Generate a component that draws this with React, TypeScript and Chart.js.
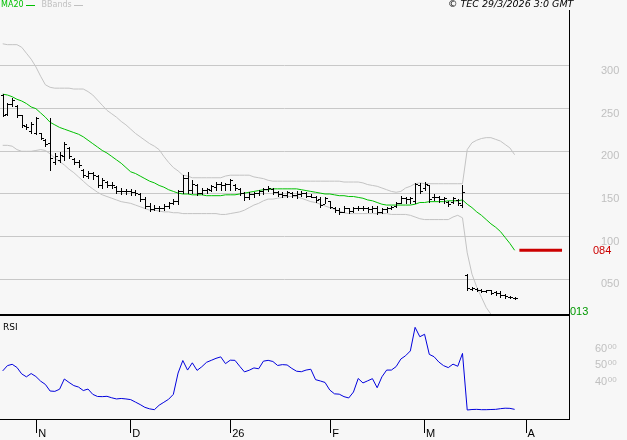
import React, { useEffect, useRef } from "react";
import { Chart, registerables } from "chart.js";

Chart.register(...registerables);

const SANS = "'Liberation Sans', Arial, sans-serif";
const DEJAVU = "'DejaVu Sans', sans-serif";

// ---- Daily OHLC (index 0 = first session shown) ----
const highs = [
  2.67, 2.57, 2.62, 2.54, 2.43, 2.32, 2.34, 2.40, 2.22, 2.14,
  2.39, 1.98, 1.99, 2.11, 2.05, 1.92, 1.90, 1.79, 1.77, 1.76,
  1.72, 1.69, 1.65, 1.64, 1.59, 1.57, 1.56, 1.56, 1.55, 1.51,
  1.47, 1.39, 1.37, 1.36, 1.38, 1.41, 1.44, 1.55, 1.72, 1.76,
  1.66, 1.62, 1.57, 1.57, 1.61, 1.64, 1.64, 1.63, 1.68, 1.62,
  1.57, 1.52, 1.52, 1.52, 1.55, 1.57, 1.59, 1.57, 1.54, 1.52,
  1.54, 1.52, 1.54, 1.54, 1.52, 1.50, 1.48, 1.46, 1.47, 1.42,
  1.35, 1.34, 1.36, 1.34, 1.35, 1.36, 1.36, 1.35, 1.36, 1.36,
  1.34, 1.35, 1.36, 1.41, 1.48, 1.46, 1.46, 1.63, 1.63, 1.64,
  1.61, 1.50, 1.48, 1.47, 1.42, 1.46, 1.44, 1.61, 0.56, 0.41,
  0.40, 0.39, 0.38, 0.38, 0.36, 0.36, 0.33, 0.30, 0.29,
];
const lows = [
  2.41, 2.43, 2.53, 2.40, 2.29, 2.26, 2.22, 2.20, 2.14, 2.06,
  1.78, 1.85, 1.88, 1.90, 1.92, 1.85, 1.82, 1.70, 1.69, 1.68,
  1.58, 1.57, 1.58, 1.57, 1.51, 1.50, 1.50, 1.49, 1.49, 1.42,
  1.34, 1.30, 1.31, 1.30, 1.31, 1.34, 1.38, 1.38, 1.51, 1.51,
  1.51, 1.49, 1.50, 1.51, 1.53, 1.55, 1.55, 1.55, 1.55, 1.55,
  1.49, 1.43, 1.44, 1.46, 1.49, 1.50, 1.53, 1.50, 1.48, 1.47,
  1.47, 1.47, 1.45, 1.48, 1.47, 1.46, 1.41, 1.35, 1.39, 1.33,
  1.29, 1.27, 1.29, 1.28, 1.29, 1.31, 1.31, 1.29, 1.29, 1.27,
  1.28, 1.29, 1.32, 1.35, 1.39, 1.40, 1.40, 1.39, 1.51, 1.55,
  1.41, 1.43, 1.41, 1.39, 1.36, 1.40, 1.37, 1.35, 0.38, 0.37,
  0.36, 0.35, 0.35, 0.33, 0.32, 0.29, 0.28, 0.28, 0.27,
];
const opens = [
  2.66, 2.44, 2.56, 2.53, 2.42, 2.30, 2.24, 2.22, 2.21, 2.13,
  2.10, 1.87, 1.90, 1.95, 2.04, 1.91, 1.88, 1.78, 1.71, 1.74,
  1.71, 1.60, 1.64, 1.61, 1.58, 1.53, 1.54, 1.53, 1.52, 1.50,
  1.44, 1.36, 1.32, 1.33, 1.33, 1.36, 1.39, 1.42, 1.53, 1.69,
  1.55, 1.60, 1.51, 1.55, 1.55, 1.58, 1.62, 1.60, 1.62, 1.61,
  1.56, 1.51, 1.47, 1.50, 1.51, 1.54, 1.56, 1.56, 1.52, 1.50,
  1.49, 1.51, 1.49, 1.50, 1.51, 1.48, 1.47, 1.44, 1.38, 1.42,
  1.34, 1.31, 1.29, 1.33, 1.30, 1.33, 1.34, 1.33, 1.32, 1.34,
  1.29, 1.32, 1.33, 1.36, 1.40, 1.45, 1.44, 1.42, 1.60, 1.57,
  1.60, 1.46, 1.47, 1.44, 1.41, 1.41, 1.43, 1.37, 0.55, 0.39,
  0.39, 0.37, 0.36, 0.37, 0.35, 0.34, 0.31, 0.29, 0.28,
];
const closes = [
  2.43, 2.56, 2.60, 2.42, 2.31, 2.28, 2.32, 2.39, 2.16, 2.08,
  1.92, 1.95, 1.96, 2.08, 1.94, 1.88, 1.84, 1.72, 1.74, 1.72,
  1.60, 1.66, 1.61, 1.60, 1.53, 1.54, 1.53, 1.52, 1.51, 1.44,
  1.36, 1.32, 1.33, 1.33, 1.36, 1.39, 1.42, 1.53, 1.69, 1.55,
  1.62, 1.51, 1.55, 1.56, 1.59, 1.62, 1.60, 1.62, 1.66, 1.57,
  1.51, 1.47, 1.50, 1.51, 1.54, 1.56, 1.57, 1.52, 1.50, 1.49,
  1.52, 1.49, 1.50, 1.51, 1.48, 1.47, 1.43, 1.37, 1.45, 1.35,
  1.31, 1.29, 1.34, 1.30, 1.33, 1.34, 1.33, 1.32, 1.34, 1.29,
  1.32, 1.33, 1.35, 1.40, 1.45, 1.44, 1.45, 1.62, 1.54, 1.62,
  1.44, 1.47, 1.44, 1.45, 1.38, 1.45, 1.39, 1.52, 0.40, 0.40,
  0.37, 0.36, 0.37, 0.34, 0.34, 0.31, 0.30, 0.29, 0.28,
];

// ---- Indicators ----
const ma20 = [
  2.67, 2.66, 2.64, 2.61, 2.59, 2.56, 2.52, 2.50, 2.45, 2.40,
  2.34, 2.31, 2.28, 2.26, 2.24, 2.22, 2.20, 2.17, 2.13, 2.09,
  2.05, 2.01, 1.98, 1.94, 1.90, 1.86, 1.81, 1.76, 1.74, 1.71,
  1.68, 1.65, 1.63, 1.60, 1.58, 1.55, 1.53, 1.51, 1.50, 1.50,
  1.49, 1.49, 1.49, 1.48, 1.48, 1.48, 1.48, 1.49, 1.49, 1.49,
  1.50, 1.51, 1.52, 1.53, 1.54, 1.55, 1.55, 1.56, 1.56, 1.56,
  1.56, 1.56, 1.56, 1.55, 1.54, 1.53, 1.52, 1.51, 1.50, 1.50,
  1.49, 1.48, 1.48, 1.47, 1.47, 1.46, 1.45, 1.43, 1.42, 1.40,
  1.38, 1.37, 1.37, 1.37, 1.37, 1.37, 1.37, 1.38, 1.40, 1.40,
  1.41, 1.41, 1.41, 1.41, 1.42, 1.42, 1.42, 1.43, 1.38, 1.34,
  1.29, 1.25, 1.20, 1.15, 1.11, 1.06, 0.99, 0.92, 0.84,
];
const bbUpper = [
  3.26, 3.25, 3.25, 3.25, 3.22, 3.15, 3.08, 2.99, 2.88, 2.78,
  2.75, 2.74, 2.74, 2.74, 2.74, 2.73, 2.73, 2.73, 2.70, 2.66,
  2.60, 2.54, 2.48, 2.44, 2.40, 2.35, 2.31, 2.26, 2.21, 2.17,
  2.13, 2.09, 2.06, 2.02, 1.94, 1.87, 1.81, 1.77, 1.72, 1.71,
  1.69, 1.69, 1.69, 1.69, 1.69, 1.69, 1.69, 1.71, 1.72, 1.72,
  1.72, 1.72, 1.72, 1.70, 1.69, 1.68, 1.66, 1.65, 1.65, 1.65,
  1.65, 1.65, 1.65, 1.65, 1.65, 1.65, 1.65, 1.65, 1.65, 1.65,
  1.65, 1.65, 1.64, 1.64, 1.64, 1.64, 1.63, 1.61, 1.60, 1.59,
  1.57, 1.55, 1.53, 1.52, 1.53, 1.57, 1.59, 1.62, 1.63, 1.62,
  1.62, 1.62, 1.62, 1.62, 1.62, 1.62, 1.62, 1.62, 2.02, 2.10,
  2.13, 2.15, 2.16, 2.16, 2.14, 2.12, 2.08, 2.04, 1.96,
];
const bbLower = [
  2.07, 2.07, 2.06, 2.02, 2.00, 2.00, 2.00, 2.01, 2.02, 2.01,
  1.97, 1.92, 1.88, 1.84, 1.79, 1.75, 1.70, 1.65, 1.60, 1.56,
  1.52, 1.49, 1.47, 1.45, 1.43, 1.41, 1.40, 1.39, 1.37, 1.35,
  1.33, 1.31, 1.31, 1.30, 1.29, 1.29, 1.28, 1.28, 1.27, 1.27,
  1.27, 1.27, 1.27, 1.27, 1.27, 1.27, 1.26, 1.26, 1.27, 1.28,
  1.29, 1.31, 1.34, 1.37, 1.39, 1.42, 1.44, 1.44, 1.45, 1.46,
  1.47, 1.47, 1.47, 1.45, 1.43, 1.41, 1.40, 1.38, 1.36, 1.34,
  1.32, 1.30, 1.28, 1.27, 1.27, 1.27, 1.27, 1.27, 1.27, 1.27,
  1.27, 1.27, 1.26, 1.26, 1.26, 1.26, 1.25, 1.23, 1.21, 1.20,
  1.20, 1.20, 1.20, 1.20, 1.20, 1.23, 1.25, 1.22, 0.81, 0.56,
  0.41, 0.29, 0.17, 0.09, 0.01, -0.07, -0.16, -0.25, -0.33,
];
const rsi = [
  43.4, 46.6, 47.4, 45.5, 41.6, 39.8, 41.8, 40.0, 37.2, 35.2,
  31.2, 31.0, 32.3, 38.5, 36.4, 34.5, 33.6, 31.5, 32.4, 29.2,
  27.9, 27.8, 28.0, 27.1, 26.4, 26.7, 26.4, 26.0, 24.5, 23.0,
  21.3, 20.4, 19.9, 22.6, 24.4, 26.2, 29.2, 42.1, 49.7, 43.9,
  48.3, 43.7, 45.9, 48.6, 49.8, 51.0, 51.9, 47.8, 49.9, 49.8,
  46.2, 42.8, 43.8, 45.2, 44.7, 49.3, 49.8, 49.1, 46.7, 47.2,
  47.0, 44.9, 43.2, 42.9, 43.9, 44.4, 38.1, 37.3, 36.4, 31.8,
  29.5, 29.3, 27.8, 27.0, 30.6, 38.8, 36.1, 37.4, 38.7, 33.2,
  39.8, 43.9, 43.9, 46.0, 50.6, 52.6, 55.5, 69.8, 64.1, 65.6,
  53.4, 52.0, 48.8, 46.6, 45.4, 47.5, 46.2, 54.0, 19.7, 20.0,
  20.1, 19.9, 19.9, 20.0, 20.1, 20.5, 20.8, 20.7, 20.1,
];

// ---- Axis ticks / labels ----
const monthTickIndex = [7.2, 27, 48.1, 69.2, 89, 110.4];
const monthTickLabels = ["N", "D", "26", "F", "M", "A"];
const priceTicks = [0.5, 1, 1.5, 2, 2.5, 3];
const priceTickLabels = ["050", "100", "150", "200", "250", "300"];
const rsiTicks = [40, 50, 60];
const rsiTickMain = ["40", "50", "60"];
const rsiTickSup = "00";

// ---- Markers ----
const targetLevel = 0.84;
const targetLabel = "084";
const targetRange = [109, 118];
const lowMarkLevel = 0.13;
const lowMarkLabel = "013";

const legendItems = [
  { label: "MA20", color: "#00c000" },
  { label: "BBands", color: "#c0c0c0" },
];
const copyright = "\u00a9 TEC 29/3/2026 3:0 GMT";

// ---- Scale ranges ----
const X_MIN = -0.57;
const X_MAX = 119.47;
const PRICE_MIN = 0.0697;
const PRICE_MAX = 3.6563;
const RSI_MIN = 14.25;
const RSI_MAX = 76.67;

const pts = (arr: number[]) => arr.map((v, i) => ({ x: i, y: v }));

const ohlcPlugin = {
  id: "ohlc",
  afterDatasetsDraw(chart: any) {
    const { ctx, chartArea } = chart;
    const xs = chart.scales.x;
    const ys = chart.scales.y;
    ctx.save();
    ctx.beginPath();
    ctx.rect(chartArea.left, chartArea.top, chartArea.width, chartArea.height);
    ctx.clip();
    ctx.fillStyle = "#000";
    for (let i = 0; i < highs.length; i++) {
      const px = Math.round(xs.getPixelForValue(i));
      const yh = Math.round(ys.getPixelForValue(highs[i]));
      const yl = Math.round(ys.getPixelForValue(lows[i]));
      const yo = Math.round(ys.getPixelForValue(opens[i]));
      const yc = Math.round(ys.getPixelForValue(closes[i]));
      ctx.fillRect(px, yh, 1, Math.max(1, yl - yh + 1));
      ctx.fillRect(px - 2, yo, 2, 1);
      ctx.fillRect(px + 1, yc, 2, 1);
    }
    ctx.restore();
  },
};

const decorMain = {
  id: "decorMain",
  afterDraw(chart: any) {
    const { ctx, chartArea } = chart;
    const ys = chart.scales.y;
    ctx.save();
    // bottom border of price panel
    ctx.fillStyle = "#000";
    ctx.fillRect(0, chartArea.bottom - 2, chartArea.right, 2);
    // legend
    ctx.font = `8px ${DEJAVU}`;
    ctx.textBaseline = "middle";
    ctx.textAlign = "left";
    let x = 1;
    legendItems.forEach((it) => {
      ctx.fillStyle = it.color;
      ctx.fillText(it.label, x, 5);
      x += ctx.measureText(it.label).width + 2;
      ctx.fillRect(Math.round(x), 5, 9, 1);
      x += 9 + 7;
    });
    // copyright
    ctx.fillStyle = "#000";
    ctx.font = `italic 9.5px ${DEJAVU}`;
    ctx.fillText(copyright, 448, 5);
    // marker labels
    ctx.font = `11px ${SANS}`;
    ctx.fillStyle = "#cc0000";
    ctx.fillText(targetLabel, 593, ys.getPixelForValue(targetLevel) + 1);
    ctx.fillStyle = "#009900";
    ctx.fillText(lowMarkLabel, 570, ys.getPixelForValue(lowMarkLevel) + 1);
    ctx.restore();
  },
};

const decorRsi = {
  id: "decorRsi",
  afterDraw(chart: any) {
    const { ctx } = chart;
    const ys = chart.scales.y;
    ctx.save();
    ctx.textBaseline = "middle";
    ctx.textAlign = "left";
    ctx.fillStyle = "#000";
    ctx.font = `9px ${DEJAVU}`;
    ctx.fillText("RSI", 3, 12);
    ctx.fillStyle = "#c0c0c0";
    rsiTicks.forEach((v, k) => {
      const y = ys.getPixelForValue(v) + 5;
      ctx.font = `11px ${SANS}`;
      const main = rsiTickMain[k];
      ctx.fillText(main, 595, y);
      const w = ctx.measureText(main).width;
      ctx.font = `8px ${SANS}`;
      ctx.fillText(rsiTickSup, 595 + w + 0.5, y - 2);
    });
    ctx.restore();
  },
};

export default function App() {
  const mainRef = useRef<HTMLCanvasElement>(null);
  const rsiRef = useRef<HTMLCanvasElement>(null);

  useEffect(() => {
    const main = new Chart(mainRef.current as HTMLCanvasElement, {
      type: "line",
      data: {
        datasets: [
          { label: "BB upper", data: pts(bbUpper), borderColor: "#c3c3c3", borderWidth: 1, pointRadius: 0 },
          { label: "BB lower", data: pts(bbLower), borderColor: "#c3c3c3", borderWidth: 1, pointRadius: 0 },
          { label: "MA20", data: pts(ma20), borderColor: "#00c000", borderWidth: 1, pointRadius: 0 },
          {
            label: "Target",
            data: targetRange.map((x) => ({ x, y: targetLevel })),
            borderColor: "#cc0000",
            borderWidth: 3,
            pointRadius: 0,
          },
        ],
      },
      options: {
        responsive: false,
        animation: false,
        events: [],
        layout: { padding: { top: 10, left: 0, right: 0, bottom: 0 } },
        elements: { line: { tension: 0 } },
        plugins: { legend: { display: false }, tooltip: { enabled: false } },
        scales: {
          x: { type: "linear", display: false, min: X_MIN, max: X_MAX },
          y: {
            type: "linear",
            position: "right",
            min: PRICE_MIN,
            max: PRICE_MAX,
            afterFit: (s: any) => {
              s.width = 58;
            },
            afterBuildTicks: (s: any) => {
              s.ticks = priceTicks.map((v) => ({ value: v }));
            },
            grid: {
              color: "#c8c8c8",
              drawTicks: true,
              tickLength: 39,
              tickColor: "rgba(0,0,0,0)",
              lineWidth: 1,
            },
            border: { display: true, color: "#000", width: 1 },
            ticks: {
              autoSkip: false,
              padding: -7,
              labelOffset: 5,
              color: "#c0c0c0",
              font: { family: SANS, size: 11 },
              callback: (v: any) => {
                const k = priceTicks.indexOf(Number(v));
                return k >= 0 ? priceTickLabels[k] : "";
              },
            },
          },
        },
      },
      plugins: [ohlcPlugin, decorMain],
    } as any);

    const rsiChart = new Chart(rsiRef.current as HTMLCanvasElement, {
      type: "line",
      data: {
        datasets: [
          { label: "RSI", data: pts(rsi), borderColor: "#0000dd", borderWidth: 1, pointRadius: 0 },
        ],
      },
      options: {
        responsive: false,
        animation: false,
        events: [],
        layout: { padding: 0 },
        elements: { line: { tension: 0 } },
        plugins: { legend: { display: false }, tooltip: { enabled: false } },
        scales: {
          x: {
            type: "linear",
            position: "bottom",
            min: X_MIN,
            max: X_MAX,
            afterFit: (s: any) => {
              s.height = 21;
            },
            afterBuildTicks: (s: any) => {
              s.ticks = monthTickIndex.map((v) => ({ value: v }));
            },
            grid: { drawOnChartArea: false, drawTicks: true, tickLength: 14, color: "#000" },
            border: { display: true, color: "#000", width: 1 },
            ticks: {
              autoSkip: false,
              maxRotation: 0,
              align: "start",
              padding: -6,
              labelOffset: 1.5,
              color: "#000",
              font: { family: SANS, size: 11 },
              callback: (v: any) => {
                const k = monthTickIndex.indexOf(Number(v));
                return k >= 0 ? monthTickLabels[k] : "";
              },
            },
          },
          y: {
            type: "linear",
            position: "right",
            min: RSI_MIN,
            max: RSI_MAX,
            afterFit: (s: any) => {
              s.width = 58;
            },
            grid: { display: false },
            border: { display: true, color: "#000", width: 1 },
            ticks: { display: false },
          },
        },
      },
      plugins: [decorRsi],
    } as any);

    return () => {
      main.destroy();
      rsiChart.destroy();
    };
  }, []);

  return (
    <div
      style={{
        position: "fixed",
        left: 0,
        top: 0,
        width: 627,
        height: 440,
        background: "#f7f7f7",
        overflow: "hidden",
      }}
    >
      <canvas
        ref={mainRef}
        width={627}
        height={316}
        style={{ position: "absolute", left: 0, top: 0, width: 627, height: 316 }}
      />
      <canvas
        ref={rsiRef}
        width={627}
        height={124}
        style={{ position: "absolute", left: 0, top: 316, width: 627, height: 124 }}
      />
    </div>
  );
}
